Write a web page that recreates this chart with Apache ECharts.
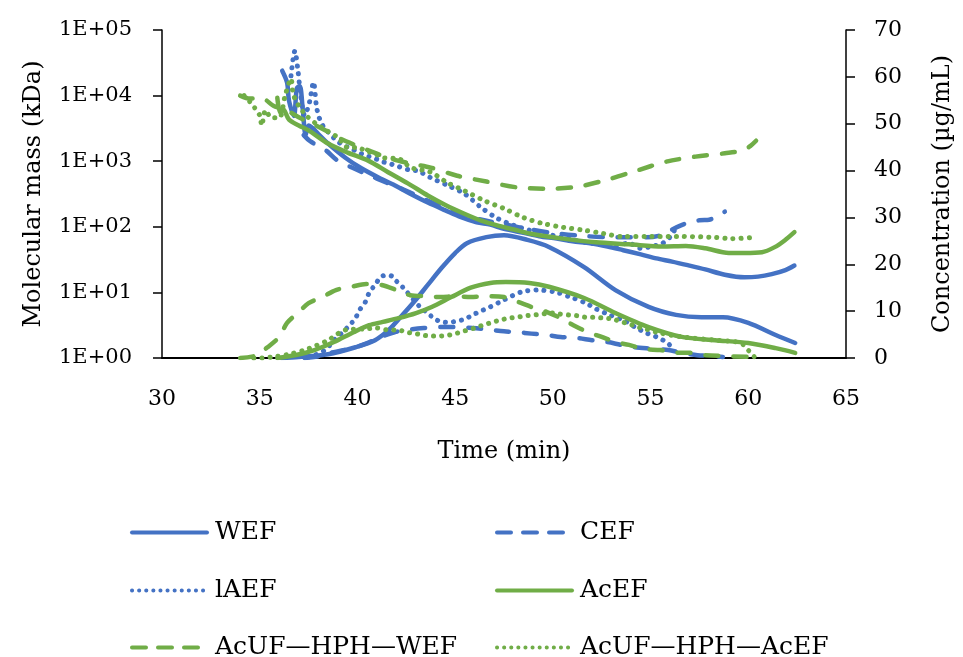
<!DOCTYPE html>
<html>
<head>
<meta charset="utf-8">
<script src="https://cdn.jsdelivr.net/npm/echarts@6/dist/echarts.min.js"></script>
<style>
html,body{margin:0;padding:0;background:#fff;}
#chart{width:963px;height:657px;}
</style>
</head>
<body>
<div id="chart"></div>
<script>
// ---- Data (time in min; molecular mass in kDa; concentration in µg/mL) ----
const LEGEND_NAMES = ['WEF', 'CEF', 'lAEF', 'AcEF', 'AcUF\u2014HPH\u2014WEF', 'AcUF\u2014HPH\u2014AcEF'];

const WEF_MASS = [[36.15,24000],[36.4,15800],[36.5,8300],[36.75,4900],[36.9,13000],[37.05,14000],[37.2,6300],[37.35,2500],[37.5,3500],[37.7,3200],[38.0,2600],[38.5,1860],[39.4,1120],[40.2,780],[41.1,560],[41.9,430],[42.7,320],[43.6,235],[44.5,178],[45.3,140],[46.1,117],[46.8,108],[47.5,93],[48.5,81],[49.3,72],[50.2,66],[51.0,60],[51.9,56],[52.8,50],[53.6,44],[54.5,38],[55.3,33],[56.1,29.5],[56.9,26],[57.8,22.4],[58.8,18.6],[59.8,17],[60.5,17.4],[61.2,19],[61.9,21.9],[62.36,25.7]];
const WEF_CONC = [[36.1,0],[37.0,0.2],[38.5,0.8],[39.9,2.3],[40.9,3.8],[41.6,6.0],[42.2,8.7],[42.9,12.0],[43.6,15.6],[44.3,19.2],[45.0,22.4],[45.6,24.5],[46.6,25.8],[47.5,26.2],[48.7,25.2],[49.8,23.7],[51.6,19.4],[53.2,14.5],[54.9,10.9],[56.3,9.2],[57.6,8.7],[58.7,8.7],[60.0,7.5],[61.4,4.9],[62.4,3.2]];

const CEF_MASS = [[37.25,2500],[37.6,2000],[38.4,1450],[38.9,1070],[39.6,830],[40.5,630],[41.5,470],[42.5,355],[43.4,265],[44.3,205],[45.3,158],[46.3,129],[47.3,112],[48.7,93],[50.2,79],[51.7,72],[53.2,69],[54.8,69],[55.5,74],[56.1,91],[56.8,112],[57.5,126],[58.0,128],[58.6,160],[58.8,170]];
const CEF_CONC = [[37.3,0],[38.1,0.4],[38.5,1.0],[39.2,1.6],[39.9,2.3],[40.5,3.2],[41.2,4.5],[41.9,5.5],[42.7,6.1],[43.4,6.4],[44.3,6.6],[45.0,6.6],[45.9,6.4],[46.8,6.0],[47.5,5.7],[48.2,5.5],[48.9,5.2],[49.7,4.9],[50.4,4.5],[51.2,4.3],[52.0,3.8],[52.8,3.4],[53.5,2.8],[54.2,2.3],[55.0,2.0],[55.9,1.7],[56.6,1.1],[57.4,0.6],[58.2,0.4],[58.7,0.2]];

const LAEF_MASS = [[36.6,20000],[36.8,48000],[36.95,25000],[37.1,10000],[37.3,5000],[37.55,8000],[37.75,16000],[37.9,7000],[38.0,5000],[38.1,4200],[38.3,3200],[38.6,2600],[38.9,2100],[39.3,1740],[39.7,1550],[40.0,1380],[40.5,1200],[40.9,1100],[41.3,980],[41.7,910],[42.1,830],[42.7,730],[43.1,710],[43.75,560],[44.6,430],[45.5,316],[46.3,200],[47.15,135],[48.0,105],[48.8,89],[50.0,74],[51.0,63],[52.0,56],[53.0,52],[53.9,56],[54.5,47],[54.9,49],[55.6,56],[56.0,70],[56.4,110]];
const LAEF_CONC = [[37.5,0.2],[37.8,0.6],[38.2,1.3],[38.5,2.3],[38.8,3.8],[39.2,5.3],[39.6,7.0],[39.9,8.5],[40.1,10.2],[40.4,11.9],[40.6,13.9],[40.9,15.6],[41.2,17.3],[41.5,17.7],[41.8,17.4],[42.0,16.4],[42.3,15.2],[43.2,10.9],[43.6,9.6],[43.9,8.5],[44.3,7.7],[44.7,7.6],[45.1,7.9],[45.5,8.3],[45.9,9.2],[46.3,10.0],[46.7,10.7],[47.5,12.4],[48.4,14.1],[49.2,14.5],[50.1,14.1],[50.9,13.0],[51.7,11.7],[52.2,10.5],[52.9,9.2],[53.6,8.1],[54.2,6.6],[54.7,5.5],[55.3,4.5],[55.8,3.4],[56.1,2.3]];

const ACEF_MASS = [[35.9,9300],[36.05,5500],[36.2,6200],[36.5,4300],[37.0,3500],[37.5,2950],[38.5,1860],[39.5,1350],[40.55,1020],[41.57,680],[42.58,460],[43.6,300],[44.5,215],[45.47,158],[46.3,125],[47.15,105],[48.0,91],[48.8,79],[50.5,66],[52.2,58],[53.9,54],[55.6,50],[56.8,51],[57.8,47],[59.0,40],[59.8,40],[60.7,41],[61.35,49],[61.86,62],[62.36,83]];
const ACEF_CONC = [[35.9,0],[36.8,0.6],[37.8,1.7],[38.8,3.4],[39.8,5.5],[40.6,7.0],[41.3,7.7],[42.1,8.5],[43.0,9.6],[43.8,10.9],[44.8,13.0],[45.8,15.0],[46.8,16.0],[47.6,16.2],[48.8,16.0],[49.8,15.2],[51.6,12.8],[53.2,9.6],[54.9,6.6],[56.6,4.5],[58.3,3.8],[60.0,3.2],[61.4,2.1],[62.4,1.1]];

const UFW_MASS = [[34.0,10000],[34.5,9000],[35.07,9300],[35.7,7000],[36.4,5900],[37.1,4500],[37.8,3600],[38.5,2800],[39.13,2200],[39.9,1750],[40.6,1450],[41.3,1200],[42.07,1020],[42.9,900],[43.75,800],[45.1,600],[46.6,490],[48.15,400],[49.8,380],[51.3,410],[52.8,525],[54.3,720],[55.77,980],[57.3,1175],[58.8,1320],[59.7,1450],[60.1,1700],[60.4,2050]];
const UFW_CONC = [[34.0,0],[34.8,0.5],[35.4,2.3],[36.0,4.5],[36.4,7.5],[37.0,9.8],[37.5,11.7],[38.2,13.0],[38.9,14.5],[39.7,15.2],[40.45,15.8],[41.2,15.6],[42.0,14.5],[42.7,13.4],[43.5,13.2],[44.25,13.0],[45.0,13.2],[45.8,13.0],[46.6,13.2],[47.5,13.0],[48.2,12.0],[48.9,10.9],[49.7,9.8],[50.4,8.5],[51.05,7.0],[51.8,5.5],[52.5,4.5],[53.2,3.4],[53.9,2.8],[54.65,1.9],[55.5,1.7],[56.3,1.1],[57.0,1.1],[57.8,0.6],[60.3,0.2]];

const UFA_MASS = [[34.2,10000],[34.5,8000],[35.0,5000],[35.1,3500],[35.3,6000],[35.6,4600],[36.0,4600],[36.3,10000],[36.6,18000],[36.7,11000],[36.85,8300],[37.1,6300],[37.4,4900],[37.9,3700],[38.4,2950],[39.0,2300],[39.5,1620],[40.0,1620],[40.4,1450],[40.9,1290],[41.4,1120],[42.07,1100],[42.73,800],[43.75,680],[44.6,470],[45.47,355],[46.5,250],[47.5,190],[48.5,138],[49.5,112],[50.54,98],[51.56,89],[52.57,79],[53.59,71],[54.9,71],[56.6,71],[58.3,69],[59.17,66],[60.33,69]];
const UFA_CONC = [[34.7,0],[35.1,0],[35.6,0.2],[36.5,0.8],[37.5,2.0],[38.5,3.8],[39.4,6.0],[40.3,6.2],[40.96,6.4],[41.57,6.0],[42.07,6.0],[42.5,5.5],[42.9,5.3],[43.3,4.9],[43.75,4.7],[44.25,4.7],[44.7,4.9],[45.1,5.3],[45.5,5.8],[46.0,6.4],[46.4,7.0],[46.8,7.5],[47.3,8.1],[47.75,8.5],[48.2,8.7],[48.6,9.0],[49.1,9.2],[49.5,9.4],[49.9,9.6],[50.3,9.4],[50.8,9.2],[51.3,9.0],[51.7,8.7],[52.1,8.7],[52.6,8.5],[53.1,8.3],[53.5,7.7],[53.9,7.3],[54.35,6.6],[54.75,6.2],[55.3,5.5],[56.6,4.5],[58.3,3.8],[59.6,3.2],[60.1,1.2],[60.3,0.3]];

// ---- Styling ----
const BLUE = '#4472C4', GREEN = '#70AD47';
const FONT = 'DejaVu Serif';
const DASH = [13, 15];
const DOT = [0.1, 8];
const LEGEND_DASH = [14, 12];
const LEGEND_DOT = [0.1, 7];

function mk(name, data, yIdx, color, type, width) {
  return {
    name: name, type: 'line', data: data, yAxisIndex: yIdx,
    symbol: 'none', showSymbol: false, smooth: 0.3,
    lineStyle: { color: color, width: width, type: type, cap: 'round', join: 'round' },
    itemStyle: { color: color },
    emphasis: { disabled: true }, animation: false
  };
}

const series = [
  mk(LEGEND_NAMES[0], WEF_MASS, 0, BLUE, 'solid', 4.5),
  mk(LEGEND_NAMES[1], CEF_MASS, 0, BLUE, DASH, 4.5),
  mk(LEGEND_NAMES[2], LAEF_MASS, 0, BLUE, DOT, 5),
  mk(LEGEND_NAMES[3], ACEF_MASS, 0, GREEN, 'solid', 4.5),
  mk(LEGEND_NAMES[4], UFW_MASS, 0, GREEN, DASH, 4.5),
  mk(LEGEND_NAMES[5], UFA_MASS, 0, GREEN, DOT, 5),
  mk(LEGEND_NAMES[0], WEF_CONC, 1, BLUE, 'solid', 4.5),
  mk(LEGEND_NAMES[1], CEF_CONC, 1, BLUE, DASH, 4.5),
  mk(LEGEND_NAMES[2], LAEF_CONC, 1, BLUE, DOT, 5),
  mk(LEGEND_NAMES[3], ACEF_CONC, 1, GREEN, 'solid', 4.5),
  mk(LEGEND_NAMES[4], UFW_CONC, 1, GREEN, DASH, 4.5),
  mk(LEGEND_NAMES[5], UFA_CONC, 1, GREEN, DOT, 5)
];

const legendPos = [[130, 530], [495, 530], [130, 588], [495, 588], [130, 645], [495, 645]];
const legendTypes = ['solid', LEGEND_DASH, LEGEND_DOT, 'solid', LEGEND_DASH, LEGEND_DOT];
const legends = LEGEND_NAMES.map((n, i) => ({
  data: [n], left: legendPos[i][0], top: legendPos[i][1] - 10, padding: 0,
  itemWidth: 75, itemHeight: 10, itemGap: 0, selectedMode: false,
  itemStyle: { opacity: 0, borderWidth: 0 },
  lineStyle: { width: 4, type: legendTypes[i], cap: 'round' },
  textStyle: { fontFamily: FONT, fontSize: 25, color: '#000', padding: [0, 0, 0, 3] }
}));

const axisFont = { fontFamily: FONT, fontSize: 21, color: '#000' };

const chart = echarts.init(document.getElementById('chart'), null, { renderer: 'canvas' });
chart.setOption({
  backgroundColor: '#fff',
  animation: false,
  textStyle: { fontFamily: FONT },
  grid: { left: 162, right: 111, top: 30, bottom: 299, containLabel: false },
  legend: legends,
  xAxis: {
    type: 'value', min: 30, max: 65, interval: 5,
    axisLine: { show: true, onZero: false, lineStyle: { color: '#000', width: 2 } },
    axisTick: { show: false }, splitLine: { show: false },
    axisLabel: Object.assign({ margin: 30 }, axisFont, { fontSize: 22 }),
    name: 'Time (min)', nameLocation: 'middle', nameGap: 82,
    nameTextStyle: { fontFamily: FONT, fontSize: 24, color: '#000' }
  },
  yAxis: [
    {
      type: 'log', logBase: 10, min: 1, max: 100000, position: 'left',
      axisLine: { show: true, lineStyle: { color: '#000', width: 1.5 } },
      axisTick: { show: true, inside: false, length: 9, lineStyle: { color: '#000', width: 1.5 } },
      splitLine: { show: false },
      axisLabel: Object.assign({ margin: 30, formatter: v => '1E+' + String(Math.round(Math.log10(v))).padStart(2, '0') }, axisFont),
      name: 'Molecular mass (kDa)', nameLocation: 'middle', nameRotate: 90, nameGap: 116,
      nameTextStyle: { fontFamily: FONT, fontSize: 24, color: '#000' }
    },
    {
      type: 'value', min: 0, max: 70, interval: 10, position: 'right',
      axisLine: { show: true, lineStyle: { color: '#000', width: 1.5 } },
      axisTick: { show: true, inside: false, length: 9, lineStyle: { color: '#000', width: 1.5 } },
      splitLine: { show: false },
      axisLabel: Object.assign({ margin: 28 }, axisFont, { fontSize: 22 }),
      name: 'Concentration (\u00b5g/mL)', nameLocation: 'middle', nameRotate: 90, nameGap: 85,
      nameTextStyle: { fontFamily: FONT, fontSize: 24, color: '#000' }
    }
  ],
  series: series
});
</script>
</body>
</html>
